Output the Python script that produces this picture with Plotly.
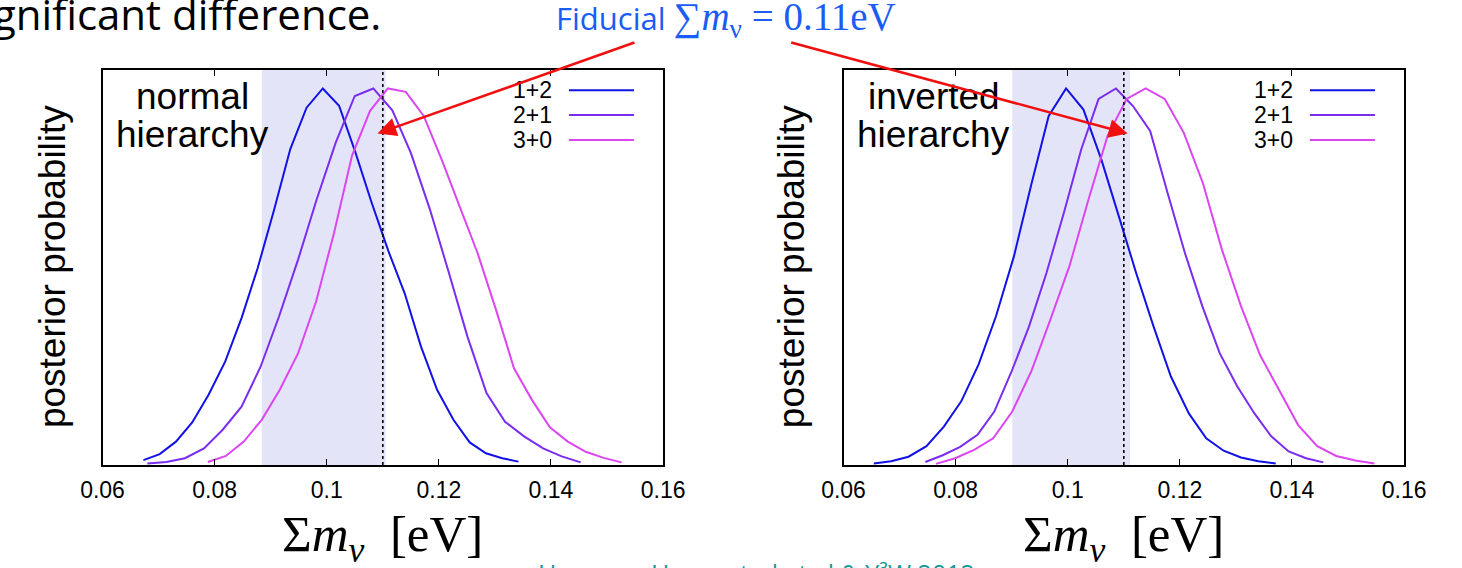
import plotly.graph_objects as go

# ---------------- data ----------------
series_names = ["1+2", "2+1", "3+0"]
series_colors = ["#1212e6", "#7a2cf0", "#dc46f0"]

# normal hierarchy
nh_x_12 = [0.0673, 0.0702, 0.0731, 0.0760, 0.0789, 0.0819, 0.0848, 0.0877, 0.0906, 0.0935, 0.0964, 0.0993,
           0.1022, 0.1051, 0.1080, 0.1110, 0.1139, 0.1168, 0.1197, 0.1226, 0.1255, 0.1284, 0.1313, 0.1342]
nh_y_12 = [0.013, 0.029, 0.062, 0.113, 0.186, 0.275, 0.390, 0.524, 0.677, 0.839, 0.949, 1.000,
           0.954, 0.831, 0.697, 0.568, 0.456, 0.315, 0.199, 0.120, 0.060, 0.031, 0.018, 0.009]
nh_x_21 = [0.0680, 0.0714, 0.0747, 0.0781, 0.0814, 0.0848, 0.0882, 0.0915, 0.0949, 0.0982, 0.1016, 0.1050,
           0.1083, 0.1117, 0.1150, 0.1184, 0.1218, 0.1251, 0.1285, 0.1318, 0.1352, 0.1386, 0.1419, 0.1453]
nh_y_21 = [0.004, 0.008, 0.018, 0.044, 0.093, 0.155, 0.261, 0.395, 0.546, 0.705, 0.856, 0.980,
           1.000, 0.942, 0.829, 0.679, 0.510, 0.341, 0.191, 0.115, 0.076, 0.044, 0.023, 0.007]
nh_x_30 = [0.0788, 0.0820, 0.0852, 0.0884, 0.0916, 0.0949, 0.0981, 0.1013, 0.1045, 0.1077, 0.1109, 0.1141,
           0.1173, 0.1205, 0.1237, 0.1269, 0.1302, 0.1334, 0.1366, 0.1398, 0.1430, 0.1462, 0.1494, 0.1526]
nh_y_30 = [0.008, 0.024, 0.062, 0.120, 0.199, 0.297, 0.434, 0.616, 0.821, 0.940, 1.000, 0.991,
           0.927, 0.811, 0.687, 0.563, 0.412, 0.257, 0.173, 0.100, 0.062, 0.035, 0.019, 0.007]

# inverted hierarchy
ih_x_12 = [0.0654, 0.0685, 0.0716, 0.0748, 0.0779, 0.0810, 0.0841, 0.0872, 0.0904, 0.0935, 0.0966, 0.0997,
           0.1028, 0.1060, 0.1091, 0.1122, 0.1153, 0.1184, 0.1216, 0.1247, 0.1278, 0.1309, 0.1340, 0.1371]
ih_y_12 = [0.004, 0.010, 0.022, 0.050, 0.102, 0.169, 0.267, 0.395, 0.554, 0.745, 0.927, 1.000,
           0.944, 0.811, 0.661, 0.510, 0.368, 0.235, 0.137, 0.071, 0.038, 0.020, 0.010, 0.004]
ih_x_21 = [0.0746, 0.0777, 0.0808, 0.0839, 0.0869, 0.0900, 0.0931, 0.0962, 0.0993, 0.1024, 0.1055, 0.1086,
           0.1116, 0.1147, 0.1178, 0.1209, 0.1240, 0.1271, 0.1302, 0.1333, 0.1363, 0.1394, 0.1425, 0.1456]
ih_y_21 = [0.008, 0.026, 0.048, 0.080, 0.142, 0.249, 0.368, 0.510, 0.669, 0.838, 0.972, 1.000,
           0.954, 0.887, 0.723, 0.563, 0.422, 0.297, 0.210, 0.137, 0.076, 0.036, 0.018, 0.007]
ih_x_30 = [0.0765, 0.0799, 0.0833, 0.0867, 0.0901, 0.0935, 0.0969, 0.1003, 0.1037, 0.1071, 0.1105, 0.1139,
           0.1173, 0.1207, 0.1241, 0.1275, 0.1309, 0.1343, 0.1377, 0.1411, 0.1445, 0.1479, 0.1513, 0.1547]
ih_y_30 = [0.003, 0.018, 0.040, 0.071, 0.142, 0.249, 0.386, 0.528, 0.705, 0.874, 0.972, 1.000,
           0.972, 0.882, 0.749, 0.572, 0.422, 0.292, 0.199, 0.106, 0.050, 0.024, 0.012, 0.004]

fiducial_sum_mnu = 0.11
nh_band = [0.0884, 0.1105]
ih_band = [0.0901, 0.1111]

tick_vals = [0.06, 0.08, 0.10, 0.12, 0.14, 0.16]
tick_text = ["0.06", "0.08", "0.1", "0.12", "0.14", "0.16"]
x_range = [0.06, 0.16]
y_range = [0, 1.049]

panel_labels = [("normal", "hierarchy"), ("inverted", "hierarchy")]

# ---------------- figure ----------------
W, H = 1462, 568
def px(xp):
    return xp / W
def py(yp):
    return 1 - yp / H

SANS = "Liberation Sans, Arial, Helvetica, sans-serif"
SERIF = "Liberation Serif, Times New Roman, serif"
SLIDE = "Open Sans, Noto Sans, sans-serif"

fig = go.Figure()

panels = [
    ("x", "y", [(nh_x_12, nh_y_12), (nh_x_21, nh_y_21), (nh_x_30, nh_y_30)], nh_band),
    ("x2", "y2", [(ih_x_12, ih_y_12), (ih_x_21, ih_y_21), (ih_x_30, ih_y_30)], ih_band),
]

shapes = []
annotations = []
for k, (xa, ya, curves, band) in enumerate(panels):
    for (xs, ys), name, col in zip(curves, series_names, series_colors):
        fig.add_trace(go.Scatter(x=xs, y=ys, mode="lines", name=name, xaxis=xa, yaxis=ya,
                                 line=dict(color=col, width=2), showlegend=False, hoverinfo="skip"))
    # credible band
    shapes.append(dict(type="rect", xref=xa, yref=f"{ya} domain", x0=band[0], x1=band[1], y0=0, y1=1,
                       fillcolor="#e4e4f8", line=dict(width=0), layer="below"))
    # fiducial line
    shapes.append(dict(type="line", xref=xa, yref=f"{ya} domain", x0=fiducial_sum_mnu, x1=fiducial_sum_mnu,
                       y0=0, y1=1, line=dict(color="black", width=1.6, dash="dot"), layer="above"))
    # legend
    legend_rows = [0.949, 0.886, 0.823]
    for name, col, yy in zip(series_names, series_colors, legend_rows):
        annotations.append(dict(xref=f"{xa} domain", yref=f"{ya} domain", x=0.806, y=yy, text=name,
                                showarrow=False, xanchor="right", yanchor="middle",
                                font=dict(family=SANS, size=23, color="black")))
        shapes.append(dict(type="line", xref=f"{xa} domain", yref=f"{ya} domain", x0=0.832, x1=0.948,
                           y0=yy, y1=yy, line=dict(color=col, width=2)))
    # panel label
    l1, l2 = panel_labels[k]
    annotations.append(dict(xref=f"{xa} domain", yref="paper", x=0.161, y=py(96), text=l1, showarrow=False,
                            xanchor="center", yanchor="middle", font=dict(family=SANS, size=37, color="black")))
    annotations.append(dict(xref=f"{xa} domain", yref="paper", x=0.161, y=py(134), text=l2, showarrow=False,
                            xanchor="center", yanchor="middle", font=dict(family=SANS, size=37, color="black")))
    # x-axis title
    annotations.append(dict(xref=f"{xa} domain", yref="paper", x=0.5, y=py(538),
                            text="\u03a3<i>m</i><sub><i>\u03bd</i></sub>\u00a0\u00a0[eV]", showarrow=False,
                            xanchor="center", yanchor="middle", font=dict(family=SERIF, size=51, color="black")))

# y-axis titles
for xc in (31, 793):
    annotations.append(dict(xref="paper", yref="paper", x=px(xc), y=py(267), text="posterior probability",
                            textangle=-90, showarrow=False, xanchor="center", yanchor="middle",
                            font=dict(family=SANS, size=37, color="black")))

# slide texts
annotations.append(dict(xref="paper", yref="paper", x=px(372), y=py(14), text="gnificant difference.",
                        showarrow=False, xanchor="right", yanchor="middle",
                        font=dict(family=SLIDE, size=42, color="black")))
annotations.append(dict(xref="paper", yref="paper", x=px(548), y=py(20),
                        text="Fiducial <span style='font-family:Liberation Serif;font-size:39px'>\u2211<i>m</i><sub>\u03bd</sub> = 0.11eV</span>",
                        showarrow=False, xanchor="left", yanchor="middle",
                        font=dict(family=SLIDE, size=31, color="#1a5cf5")))
annotations.append(dict(xref="paper", yref="paper", x=px(530), y=py(554),
                        text="Hamann, Hannestad et al & Y\u00b3W 2012",
                        showarrow=False, xanchor="left", yanchor="top",
                        font=dict(family=SLIDE, size=25, color="#17989a")))

# red arrows
for tip_x, tail_x in ((366.5, 625), (1140, 802)):
    annotations.append(dict(xref="paper", yref="paper", x=px(tip_x), y=py(133.5), text="",
                            showarrow=True, ax=tail_x - tip_x, ay=42 - 133.5,
                            arrowcolor="#f01010", arrowwidth=2.6, arrowhead=2, arrowsize=1.45))

axis_common_x = dict(range=x_range, tickvals=tick_vals, ticktext=tick_text, ticks="inside", ticklen=6,
                     tickwidth=1.2, tickcolor="black", showline=True, linecolor="black", linewidth=1.5,
                     mirror="ticks", showgrid=False, zeroline=False, ticklabelstandoff=4,
                     tickfont=dict(family=SANS, size=23, color="black"))
axis_common_y = dict(range=y_range, showticklabels=False, ticks="", showline=True, linecolor="black",
                     linewidth=1.5, mirror=True, showgrid=False, zeroline=False,
                     domain=[py(465), py(70)])

fig.update_layout(
    width=W, height=H, margin=dict(l=0, r=0, t=0, b=0),
    paper_bgcolor="white", plot_bgcolor="white",
    xaxis=dict(domain=[px(83), px(661)], anchor="y", **axis_common_x),
    xaxis2=dict(domain=[px(847), px(1425)], anchor="y2", **axis_common_x),
    yaxis=dict(anchor="x", **axis_common_y),
    yaxis2=dict(anchor="x2", **axis_common_y),
    shapes=shapes, annotations=annotations, showlegend=False,
)

fig.write_html("out.html")
